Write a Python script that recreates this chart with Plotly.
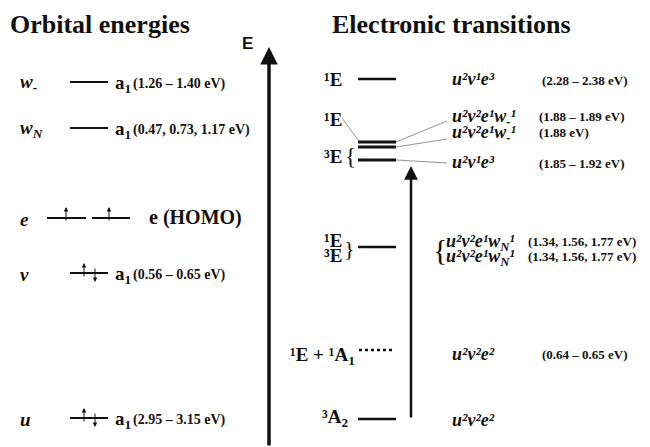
import plotly.graph_objects as go

# ---------------- data (energy in arbitrary diagram units, bottom = 0) ----------------
orbital_names = ["w<sub>-</sub>", "w<sub>N</sub>", "e", "v", "u"]
orbital_E = [365, 319, 229, 174, 29]
orbital_sym = ["a<sub>1</sub>", "a<sub>1</sub>", "e (HOMO)", "a<sub>1</sub>", "a<sub>1</sub>"]
orbital_eV = ["(1.26 – 1.40 eV)", "(0.47, 0.73, 1.17 eV)", "", "(0.56 – 0.65 eV)", "(2.95 – 3.15 eV)"]
orbital_electrons = [0, 0, 2, 2, 2]

state_E = [368, 305, 300, 287, 200, 97, 28]
state_labels = ["¹E", "¹E", "", "³E", "¹E", "¹E + ¹A<sub>1</sub>", "³A<sub>2</sub>", "³E"]
config_labels = ["u²v¹e³",
                 "u²v²e¹w<sub>-</sub>¹",
                 "u²v²e¹w<sub>-</sub>¹",
                 "u²v¹e³",
                 "u²v²e¹w<sub>N</sub>¹",
                 "u²v²e²",
                 "u²v²e²"]
config_eV = ["(2.28 – 2.38 eV)", "(1.88 – 1.89 eV)", "(1.88 eV)", "(1.85 – 1.92 eV)",
             "(1.34, 1.56, 1.77 eV)", "(0.64 – 0.65 eV)", ""]

SERIF = "Liberation Serif"
BLACK = "#111111"

def E(ypix):
    return 447 - ypix

fig = go.Figure()
shapes = []
ann = []

def text(x, y, s, size, xanchor="left", bold=True, italic=False, family=SERIF, yanchor="middle"):
    t = s
    if italic:
        t = "<i>" + t + "</i>"
    if bold:
        t = "<b>" + t + "</b>"
    ann.append(dict(x=x, y=y, xref="x", yref="y", text=t, showarrow=False,
                    xanchor=xanchor, yanchor=yanchor, borderpad=0,
                    font=dict(family=family, size=size, color=BLACK)))

def hline(x0, x1, y, w=2, dash="solid", color=BLACK):
    shapes.append(dict(type="line", xref="x", yref="y", x0=x0, x1=x1, y0=y, y1=y,
                       line=dict(color=color, width=w, dash=dash)))

def seg(x0, y0, x1, y1, w=0.7, color="#666666"):
    shapes.append(dict(type="line", xref="x", yref="y", x0=x0, x1=x1, y0=y0, y1=y1,
                       line=dict(color=color, width=w)))

def arrow(x, ytip, ytail, w=1, size=1.0, head=2):
    ann.append(dict(x=x, y=ytip, ax=x, ay=ytail, xref="x", yref="y", axref="x", ayref="y",
                    text="", showarrow=True, arrowhead=head, arrowsize=size, arrowwidth=w,
                    arrowcolor=BLACK, standoff=0, startstandoff=0))

# titles
text(9, E(24), "Orbital energies", 26)
text(331, E(24), "Electronic transitions", 26)
text(247, E(43), "E", 17, xanchor="center", family="Liberation Sans")

# main energy axis arrow
arrow(269, E(47), E(447), w=3.5, size=1.0)

# ---------------- orbitals ----------------
for nm, en, sym, ev, ne in zip(orbital_names, orbital_E, orbital_sym, orbital_eV, orbital_electrons):
    text(19, en - 1, nm, 19, italic=True)
    if sym.startswith("e"):
        hline(47, 86, en, w=2.2)
        hline(92, 130, en, w=2.2)
        arrow(66, en + 11, en - 4, w=1, size=0.9)
        arrow(109, en + 11, en - 4, w=1, size=0.9)
        text(148, en + 1, sym, 20)
    else:
        hline(70, 108, en, w=2.2)
        if ne == 2:
            arrow(84, en + 10, en - 5, w=1, size=0.9)
            arrow(95, en - 9, en + 6, w=1, size=0.9)
        text(114, en - 2, sym, 19)
        text(132, en - 2, ev, 14)

# ---------------- electronic states ----------------
hline(358, 396, state_E[0], w=2.5)
hline(358, 396, state_E[1], w=3)
hline(358, 396, state_E[2], w=3)
hline(358, 396, state_E[3], w=3)
hline(358, 396, state_E[4], w=2.5)
hline(359, 394, state_E[5], w=2.5, dash="dot")
hline(358, 396, state_E[6], w=2.5)

# state labels
text(343, E(79), state_labels[0], 19, xanchor="right")
text(343, E(119), state_labels[1], 19, xanchor="right")
text(343, E(156), state_labels[3], 19, xanchor="right")
text(350, E(156), "{", 23, xanchor="center", bold=False)
text(343, E(240), state_labels[4], 19, xanchor="right")
text(343, E(255), state_labels[7], 19, xanchor="right")
text(349, E(248), "}", 22, xanchor="center", bold=False)
text(356, E(356), state_labels[5], 19, xanchor="right")
text(349, E(418), state_labels[6], 19, xanchor="right")

# leader lines
seg(342, E(118), 359, E(141))
seg(396, E(142), 447, E(121))
seg(396, E(147), 447, E(139))
seg(396, E(160), 447, E(163))

# configurations
text(451, E(79), config_labels[0], 18, italic=True)
text(451, E(117), config_labels[1], 18, italic=True)
text(451, E(133), config_labels[2], 18, italic=True)
text(451, E(162), config_labels[3], 18, italic=True)
text(440, E(249), "{", 30, xanchor="center", bold=False)
text(445, E(242), config_labels[4], 18, italic=True)
text(445, E(257), config_labels[4], 18, italic=True)
text(451, E(354), config_labels[5], 18, italic=True)
text(451, E(420), config_labels[6], 18, italic=True)

# energies
text(541, E(80), config_eV[0], 13)
text(538, E(116), config_eV[1], 13)
text(538, E(132), config_eV[2], 13)
text(538, E(163), config_eV[3], 13)
text(527, E(241), config_eV[4], 13)
text(527, E(256), config_eV[4], 13)
text(541, E(354), config_eV[5], 13)

# transition arrow
arrow(411, E(166), E(419), w=2.5, size=1.1)

# the page body has an 8 px margin: shift the axes so the diagram lands where the reference has it
fig.update_layout(
    width=642, height=439,
    margin=dict(l=0, r=0, t=0, b=0),
    paper_bgcolor="white", plot_bgcolor="white",
    xaxis=dict(range=[8, 650], visible=False, fixedrange=True),
    yaxis=dict(range=[0, 439], visible=False, fixedrange=True),
    shapes=shapes, annotations=ann, showlegend=False,
)
fig.write_html("out.html")
